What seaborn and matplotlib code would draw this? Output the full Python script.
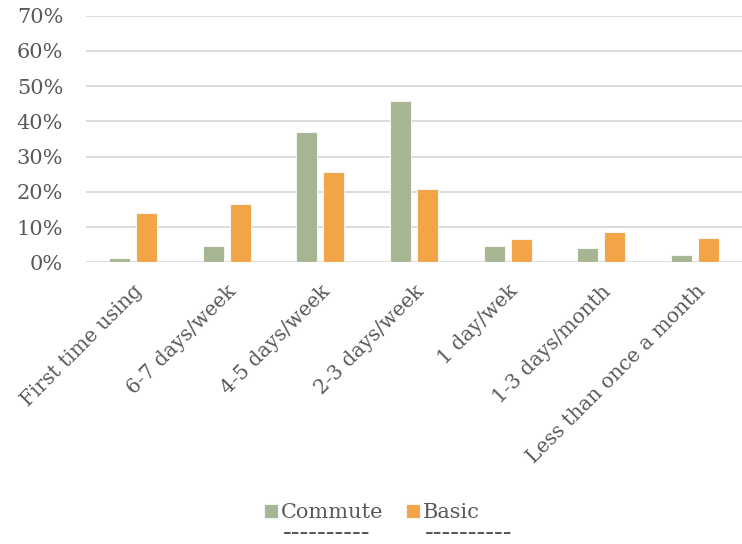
import matplotlib
matplotlib.use("Agg")
import matplotlib.pyplot as plt
import seaborn as sns
import pandas as pd
from matplotlib.ticker import PercentFormatter

categories = ["First time using", "6-7 days/week", "4-5 days/week", "2-3 days/week",
              "1 day/wek", "1-3 days/month", "Less than once a month"]
commute = [0.011, 0.046, 0.371, 0.457, 0.046, 0.039, 0.020]
basic = [0.141, 0.164, 0.255, 0.209, 0.065, 0.086, 0.070]
series_names = ["Commute", "Basic"]
colors = ["#A6B592", "#F2A446"]
yticks = [0, 0.1, 0.2, 0.3, 0.4, 0.5, 0.6, 0.7]

df = pd.DataFrame({
    "category": categories * 2,
    "value": commute + basic,
    "series": [series_names[0]] * len(categories) + [series_names[1]] * len(categories),
})

sns.set_theme(style="white")
plt.rcParams['font.family'] = ['DejaVu Serif']
text_color = "#595959"

fig = plt.figure(figsize=(7.42, 5.44), dpi=100)
ax = fig.add_axes([0.116, 0.518, 0.884, 0.453])

sns.barplot(data=df, x="category", y="value", hue="series", palette=colors,
            width=0.576, gap=0.22, ax=ax, edgecolor="#f4f4f0", linewidth=0.8,
            saturation=1)

ax.set_ylim(0, 0.7)
ax.set_xlim(-0.5, len(categories) - 0.5)
ax.set_yticks(yticks)
ax.yaxis.set_major_formatter(PercentFormatter(1.0, decimals=0))
ax.grid(axis="y", color="#d9d9d9", linewidth=1.3)
ax.set_axisbelow(True)
for s in ax.spines.values():
    s.set_visible(False)
ax.set_xlabel("")
ax.set_ylabel("")
ax.tick_params(axis="y", length=0, pad=16.5, labelsize=15, labelcolor=text_color)
ax.tick_params(axis="x", length=0, pad=14, labelsize=14.5, labelcolor=text_color)
for lbl in ax.get_yticklabels():
    lbl.set_horizontalalignment("right")
for lbl in ax.get_xticklabels():
    lbl.set_rotation(45)
    lbl.set_horizontalalignment("right")
    lbl.set_verticalalignment("top")
    lbl.set_rotation_mode("anchor")

leg = ax.legend(loc="center", bbox_to_anchor=(0.436, -1.016), ncol=2, frameon=False,
                fontsize=15, handlelength=0.65, handleheight=0.65, handletextpad=0.15,
                columnspacing=1.1, labelcolor=text_color)

fig.canvas.draw()
renderer = fig.canvas.get_renderer()
inv = fig.transFigure.inverted()
for t in leg.get_texts():
    bb = t.get_window_extent(renderer)
    x0, y0 = inv.transform((bb.x0, bb.y0))
    fig.text(x0 + 0.002, 1 - 533 / 544, "----------", fontsize=18.5,
             color=text_color, ha="left", va="center")

fig.savefig("out.png", dpi=100)
